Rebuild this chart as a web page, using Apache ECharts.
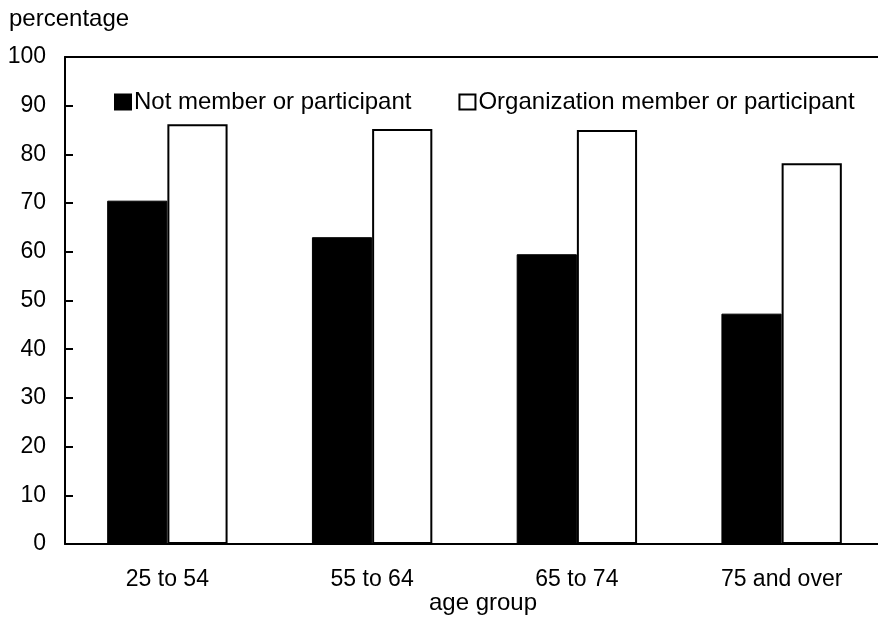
<!DOCTYPE html>
<html>
<head>
<meta charset="utf-8">
<script src="https://cdn.jsdelivr.net/npm/echarts@6/dist/echarts.min.js"></script>
<style>
  html, body { margin: 0; padding: 0; background: #fff; }
  #chart { width: 878px; height: 617px; }
</style>
</head>
<body>
<div id="chart"></div>
<script>
const categories = ['25 to 54', '55 to 64', '65 to 74', '75 and over'];
const notMember = [70.5, 63.0, 59.5, 47.3];
const member = [86.2, 85.2, 85.0, 78.2];
const seriesNames = ['Not member or participant', 'Organization member or participant'];
const yTicks = { min: 0, max: 100, interval: 10 };
const yTitle = 'percentage';
const xTitle = 'age group';

const FONT = '"Liberation Sans", Arial, sans-serif';
const chart = echarts.init(document.getElementById('chart'), null, { renderer: 'canvas' });

chart.setOption({
  animation: false,
  backgroundColor: '#ffffff',
  textStyle: { fontFamily: FONT, color: '#000' },
  grid: { left: 65, top: 57, right: -6, bottom: 73, containLabel: false, outerBoundsMode: 'none' },
  legend: {
    left: 109,
    top: 85,
    itemWidth: 16,
    itemHeight: 15,
    itemGap: 47,
    icon: 'rect',
    textStyle: { fontFamily: FONT, fontSize: 24, color: '#000', padding: [0, 0, 0, -2] },
    data: seriesNames
  },
  xAxis: [{
    type: 'category',
    data: categories,
    position: 'bottom',
    axisLine: { show: true, lineStyle: { color: '#000', width: 2 } },
    axisTick: { show: false },
    axisLabel: { fontFamily: FONT, fontSize: 23, color: '#000', margin: 24 },
    splitLine: { show: false }
  }, {
    type: 'category',
    data: categories,
    position: 'top',
    axisLine: { show: true, lineStyle: { color: '#000', width: 2 } },
    axisTick: { show: false },
    axisLabel: { show: false },
    splitLine: { show: false }
  }],
  yAxis: {
    type: 'value',
    min: yTicks.min,
    max: yTicks.max,
    interval: yTicks.interval,
    axisLine: { show: true, lineStyle: { color: '#000', width: 2 } },
    axisTick: { show: true, inside: true, length: 8, lineStyle: { color: '#000', width: 2 } },
    axisLabel: { fontFamily: FONT, fontSize: 23, color: '#000', margin: 19 },
    splitLine: { show: false }
  },
  series: [{
    name: seriesNames[0],
    type: 'bar',
    data: notMember,
    barWidth: '29.4%',
    barGap: '0%',
    itemStyle: { color: '#000', borderColor: '#000', borderWidth: 1 }
  }, {
    name: seriesNames[1],
    type: 'bar',
    data: member,
    barWidth: '29.4%',
    barGap: '0%',
    itemStyle: { color: '#fff', borderColor: '#000', borderWidth: 2 }
  }],
  graphic: [
    { type: 'text', x: 9, y: 19, style: { text: yTitle, font: '24px ' + FONT, fill: '#000', textVerticalAlign: 'middle' } },
    { type: 'text', x: 483, y: 603, style: { text: xTitle, font: '24px ' + FONT, fill: '#000', textAlign: 'center', textVerticalAlign: 'middle' } }
  ]
});
</script>
</body>
</html>
